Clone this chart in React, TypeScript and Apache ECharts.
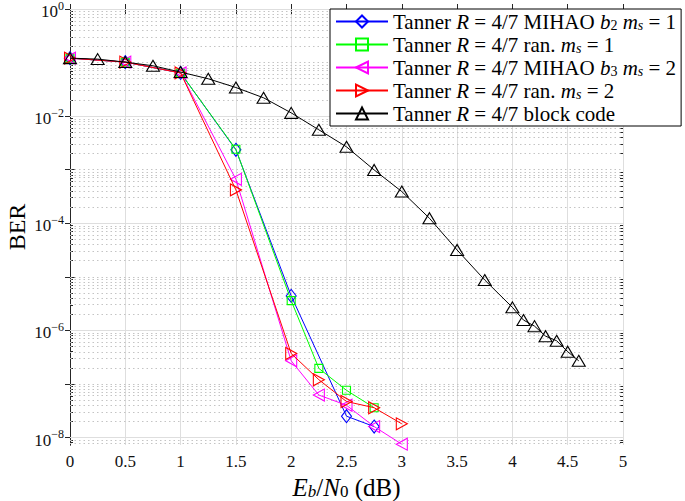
import React, { useEffect, useRef } from 'react';
import * as echarts from 'echarts';

// ---------- data ----------
const seriesNames = ['mihaoB2', 'ran1', 'mihaoB3', 'ran2', 'block'];
const legendLabels: Record<string, string> = {
  mihaoB2: 'Tanner {i|R} = 4/7 MIHAO {i|b}{sub|2} {i|m}{subi|s} = 1',
  ran1: 'Tanner {i|R} = 4/7 ran. {i|m}{subi|s} = 1',
  mihaoB3: 'Tanner {i|R} = 4/7 MIHAO {i|b}{sub|3} {i|m}{subi|s} = 2',
  ran2: 'Tanner {i|R} = 4/7 ran. {i|m}{subi|s} = 2',
  block: 'Tanner {i|R} = 4/7 block code',
};

const blueX = [0, 0.5, 1, 1.5, 2, 2.5, 2.75];
const blueBER = [0.121, 0.102, 0.064, 2.35e-3, 4.4e-6, 2.5e-8, 1.6e-8];

const greenX = [0, 0.5, 1, 1.5, 2, 2.25, 2.5, 2.75];
const greenBER = [0.121, 0.102, 0.064, 2.4e-3, 3.6e-6, 1.95e-7, 7.6e-8, 3.6e-8];

const magentaX = [0, 0.5, 1, 1.5, 2, 2.25, 2.5, 2.75, 3];
const magentaBER = [0.121, 0.102, 0.064, 6.6e-4, 2.7e-7, 6.2e-8, 4.0e-8, 1.6e-8, 7.5e-9];

const redX = [0, 0.5, 1, 1.5, 2, 2.25, 2.5, 2.75, 3];
const redBER = [0.121, 0.102, 0.064, 4.2e-4, 3.7e-7, 1.2e-7, 4.7e-8, 3.6e-8, 1.8e-8];

const blackX = [0, 0.25, 0.5, 0.75, 1, 1.25, 1.5, 1.75, 2, 2.25, 2.5, 2.75, 3, 3.25, 3.5, 3.75, 4, 4.1, 4.2, 4.3, 4.4, 4.5, 4.6];
const blackBER = [
  0.121, 0.116, 0.102, 0.0871, 0.0664, 0.0498, 0.0342, 0.022, 0.0115, 0.00555, 0.00267, 9.9e-4,
  3.9e-4, 1.24e-4, 3.17e-5, 8.7e-6, 2.69e-6, 1.56e-6, 1.2e-6, 7.8e-7, 6.4e-7, 4.0e-7, 2.7e-7,
];

const yLabelExponents = [0, -2, -4, -6, -8];
const yDecades = [0, -1, -2, -3, -4, -5, -6, -7, -8];
const Y_MIN = -8.14;
const Y_MAX = 0;
const X_MIN = 0;
const X_MAX = 5;
const X_STEP = 0.5;

// ---------- helpers ----------
const toPoints = (xs: number[], ys: number[]) => xs.map((x, i) => [x, Math.log10(ys[i])]);

const minorValues: number[] = [];
for (let d = -9; d <= 0; d++) {
  for (let k = 2; k <= 9; k++) {
    const v = d + Math.log10(k);
    if (v >= Y_MIN && v <= Y_MAX) minorValues.push(v);
  }
}
const oddDecades = yDecades.filter((d) => !yLabelExponents.includes(d));

const FONT = 'Liberation Serif';
const AXIS_COLOR = '#262626';

export default function App() {
  const ref = useRef<HTMLDivElement>(null);
  useEffect(() => {
    document.body.style.margin = '0';
    const chart = echarts.init(ref.current!, null, { renderer: 'svg' });

    const mkSeries = (
      key: string,
      xs: number[],
      ys: number[],
      color: string,
      symbol: string,
      size: number | number[],
      rotate: number,
      z: number
    ) => ({
      type: 'line',
      name: key,
      data: toPoints(xs, ys),
      symbol,
      symbolSize: size,
      symbolRotate: rotate,
      showAllSymbol: true,
      z,
      lineStyle: { color, width: 1 },
      itemStyle: { color: 'rgba(0,0,0,0)', borderColor: color, borderWidth: 1.1 },
      emphasis: { disabled: true },
    });

    const gridMarkData = [
      ...yLabelExponents.map((v) => ({ yAxis: v, lineStyle: { color: '#dedede', type: 'solid', width: 1 } })),
      ...oddDecades.map((v) => ({ yAxis: v, lineStyle: { color: '#c4c4c4', type: [1.5, 3], width: 1 } })),
      ...minorValues.map((v) => ({ yAxis: v, lineStyle: { color: '#c4c4c4', type: [1.5, 3], width: 1 } })),
    ];

    const yBase = {
      type: 'value',
      min: Y_MIN,
      max: Y_MAX,
      splitLine: { show: false },
    };

    const option: any = {
      animation: false,
      backgroundColor: '#fff',
      textStyle: { fontFamily: FONT },
      grid: { left: 70, right: 62, top: 9, bottom: 56, containLabel: false, outerBoundsMode: 'none' },
      legend: {
        data: seriesNames,
        orient: 'vertical',
        left: 330,
        top: 9,
        padding: [2, 5, 2, 5],
        itemGap: 2,
        itemWidth: 52,
        itemHeight: 15,
        backgroundColor: '#fff',
        borderColor: '#000',
        borderWidth: 1,
        borderRadius: 0,
        selectedMode: false,
        formatter: (name: string) => legendLabels[name],
        textStyle: {
          fontFamily: FONT,
          fontSize: 21,
          color: '#000',
          rich: {
            i: { fontFamily: FONT, fontStyle: 'italic', fontSize: 21, color: '#000' },
            sub: { fontFamily: FONT, fontSize: 14, color: '#000', padding: [7, 0, 0, 0] },
            subi: { fontFamily: FONT, fontStyle: 'italic', fontSize: 14, color: '#000', padding: [7, 0, 0, 0] },
          },
        },
      },
      xAxis: [
        {
          type: 'value',
          position: 'bottom',
          min: X_MIN,
          max: X_MAX,
          interval: X_STEP,
          axisLine: { show: true, lineStyle: { color: AXIS_COLOR, width: 1 } },
          axisTick: { show: true, inside: true, length: 5, lineStyle: { color: AXIS_COLOR } },
          axisLabel: { fontFamily: FONT, fontSize: 17, color: '#111', margin: 8, formatter: (v: number) => String(v) },
          splitLine: { show: true, lineStyle: { color: '#dedede', width: 1 } },
          name: '{i|E}{subi|b}{t|/}{i|N}{sub|0}{t| (dB)}',
          nameLocation: 'middle',
          nameGap: 29,
          nameMoveOverlap: false,
          nameTextStyle: {
            fontFamily: FONT,
            fontSize: 25,
            color: '#000',
            rich: {
              i: { fontFamily: FONT, fontStyle: 'italic', fontSize: 25, color: '#000' },
              t: { fontFamily: FONT, fontSize: 25, color: '#000' },
              sub: { fontFamily: FONT, fontSize: 17, color: '#000', padding: [9, 0, 0, 0] },
              subi: { fontFamily: FONT, fontStyle: 'italic', fontSize: 17, color: '#000', padding: [9, 0, 0, 0] },
            },
          },
        },
        {
          type: 'value',
          position: 'top',
          min: X_MIN,
          max: X_MAX,
          interval: X_STEP,
          axisLine: { show: true, lineStyle: { color: AXIS_COLOR, width: 1 } },
          axisTick: { show: true, inside: true, length: 5, lineStyle: { color: AXIS_COLOR } },
          axisLabel: { show: false },
          splitLine: { show: false },
        },
      ],
      yAxis: [
        {
          ...yBase,
          position: 'left',
          axisLine: { show: true, lineStyle: { color: AXIS_COLOR, width: 1 } },
          axisTick: { show: true, inside: true, length: 5, customValues: yDecades, lineStyle: { color: AXIS_COLOR } },
          axisLabel: {
            customValues: yLabelExponents,
            margin: 6,
            formatter: (v: number) => `{b|10}{s|${v === 0 ? '0' : '\u2212' + String(-v)}}`,
            rich: {
              b: { fontFamily: FONT, fontSize: 17, lineHeight: 14, color: '#111', padding: [5, 0, 0, 0] },
              s: { fontFamily: FONT, fontSize: 12, lineHeight: 10, color: '#111', padding: [0, 0, 7, 0] },
            },
          },
          name: 'BER',
          nameLocation: 'middle',
          nameGap: 42,
          nameMoveOverlap: false,
          nameTextStyle: { fontFamily: FONT, fontSize: 24, lineHeight: 22, color: '#000' },
        },
        {
          ...yBase,
          position: 'right',
          axisLine: { show: true, lineStyle: { color: AXIS_COLOR, width: 1 } },
          axisTick: { show: true, inside: true, length: 5, customValues: yDecades, lineStyle: { color: AXIS_COLOR } },
          axisLabel: { show: false },
        },
        {
          ...yBase,
          position: 'left',
          axisLine: { show: false },
          axisTick: { show: true, inside: true, length: 3, customValues: minorValues, lineStyle: { color: AXIS_COLOR } },
          axisLabel: { show: false },
        },
        {
          ...yBase,
          position: 'right',
          axisLine: { show: false },
          axisTick: { show: true, inside: true, length: 3, customValues: minorValues, lineStyle: { color: AXIS_COLOR } },
          axisLabel: { show: false },
        },
      ],
      series: [
        {
          type: 'line',
          name: '__grid',
          data: [],
          silent: true,
          z: 1,
          markLine: {
            silent: true,
            z: 1,
            symbol: ['none', 'none'],
            label: { show: false },
            emphasis: { disabled: true },
            data: gridMarkData,
          },
        },
        mkSeries('mihaoB2', blueX, blueBER, '#0000ff', 'diamond', [10, 13], 0, 3),
        mkSeries('ran1', greenX, greenBER, '#00ff00', 'rect', 8, 0, 4),
        mkSeries('mihaoB3', magentaX, magentaBER, '#ff00ff', 'triangle', [12, 11], 90, 5),
        mkSeries('ran2', redX, redBER, '#ff0000', 'triangle', [12, 11], -90, 6),
        mkSeries('block', blackX, blackBER, '#000000', 'triangle', [13, 11], 0, 7),
      ],
    };

    chart.setOption(option);
    return () => chart.dispose();
  }, []);

  return <div ref={ref} style={{ width: 685, height: 501 }} />;
}
